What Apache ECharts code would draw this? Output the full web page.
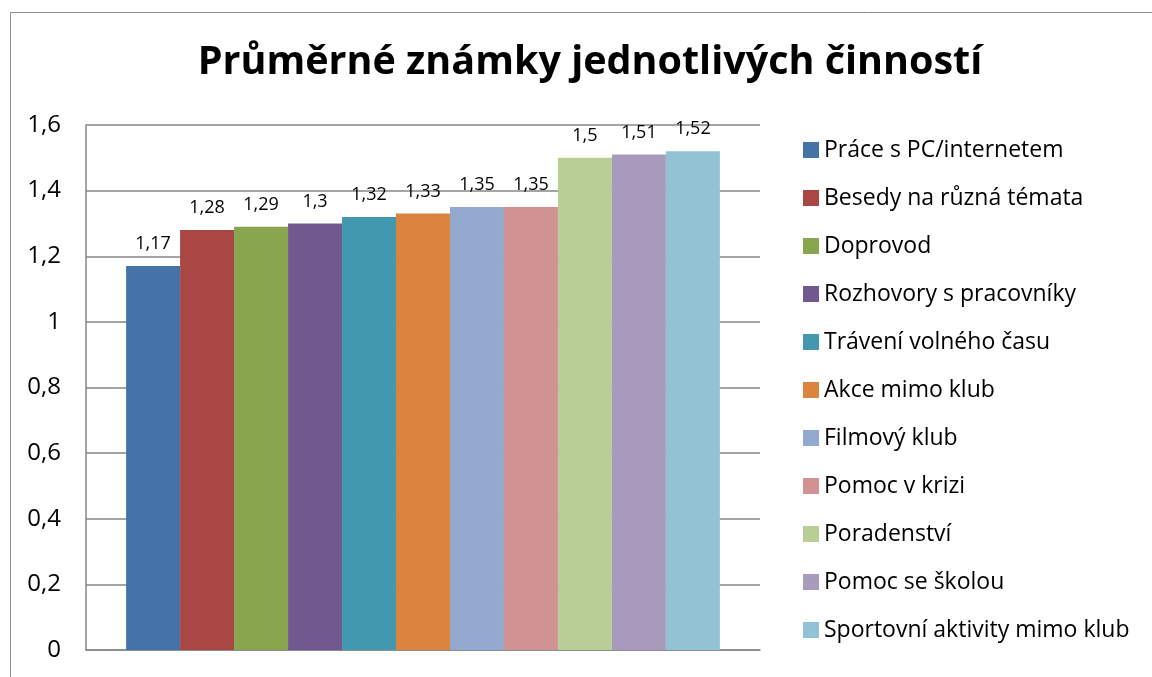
<!DOCTYPE html>
<html><head><meta charset="utf-8">
<script src="https://cdn.jsdelivr.net/npm/echarts@6/dist/echarts.min.js"></script>
<style>html,body{margin:0;padding:0;background:#fff}#c{width:1152px;height:677px}</style>
</head><body><div id="c"></div>
<script>
const title = 'Průměrné známky jednotlivých činností';
const seriesNames = ['Práce s PC/internetem','Besedy na různá témata','Doprovod','Rozhovory s pracovníky','Trávení volného času','Akce mimo klub','Filmový klub','Pomoc v krizi','Poradenství','Pomoc se školou','Sportovní aktivity mimo klub'];
const values = [1.17,1.28,1.29,1.3,1.32,1.33,1.35,1.35,1.5,1.51,1.52];
const colors = ['#4572A7','#AA4643','#89A54E','#71588F','#4198AF','#DB843D','#93A9CF','#D19392','#B9CD96','#A99BBD','#92C3D5'];
const yTicks = {min:0, max:1.6, interval:0.2};
const fmt = v => String(+v.toFixed(2)).replace('.', ',');
const font = '"Open Sans", "Noto Sans", sans-serif';

const chart = echarts.init(document.getElementById('c'), null, {renderer:'canvas'});
chart.setOption({
  animation:false,
  textStyle:{fontFamily:font},
  graphic:[{type:'rect', shape:{x:10.5,y:12.5,width:1160,height:700}, style:{fill:null, stroke:'#8c8c8c', lineWidth:1}, z:-1}],
  title:{text:title, left:585, textAlign:'center', top:38, textStyle:{fontFamily:font, fontSize:39.5, fontWeight:'bold', color:'#000'}},
  legend:{orient:'vertical', left:803, top:134, itemWidth:16, itemHeight:16, itemGap:16, icon:'rect', padding:0,
    textStyle:{fontFamily:font, fontSize:23, color:'#000', lineHeight:32}, data:seriesNames},
  grid:{left:86, top:125, right:392, bottom:27, containLabel:false},
  xAxis:{type:'category', data:[''], axisLine:{lineStyle:{color:'#868686', width:1.5}}, axisTick:{show:false}, axisLabel:{show:false}},
  yAxis:{type:'value', min:yTicks.min, max:yTicks.max, interval:yTicks.interval,
    axisLine:{show:true, lineStyle:{color:'#868686', width:1.5}}, axisTick:{show:false},
    splitLine:{lineStyle:{color:'#868686', width:1.5}},
    axisLabel:{formatter:fmt, fontFamily:font, fontSize:24, color:'#000', margin:25}},
  series: seriesNames.map((n,i)=>({
    name:n, type:'bar', data:[values[i]], barGap:'0%', barCategoryGap:'11.9%',
    itemStyle:{color:colors[i]},
    label:{show:true, position:'top', distance:13, formatter:p=>fmt(p.value), fontFamily:font, fontSize:18, color:'#000'}
  }))
});
</script></body></html>
